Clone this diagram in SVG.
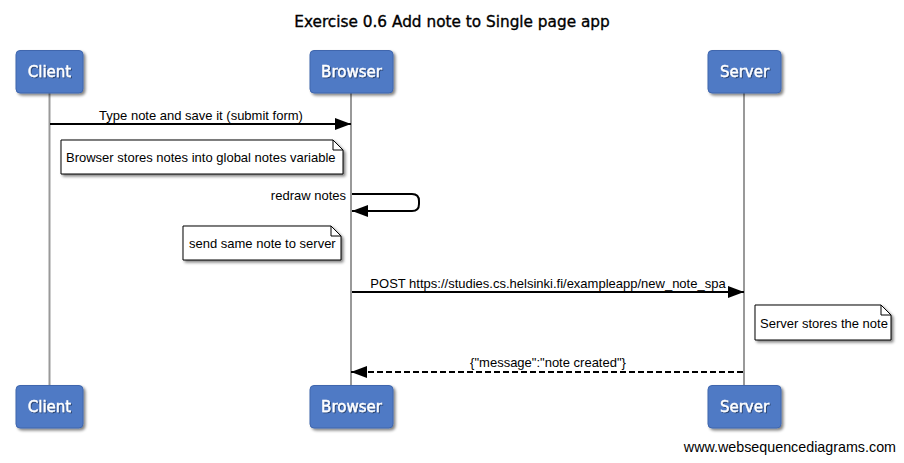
<svg xmlns="http://www.w3.org/2000/svg" width="904" height="463" viewBox="0 0 904 463">
<defs>
<filter id="sh" x="-20%" y="-20%" width="150%" height="150%"><feGaussianBlur in="SourceAlpha" stdDeviation="1.5"/><feOffset dx="2" dy="2"/><feComponentTransfer><feFuncA type="linear" slope="0.5"/></feComponentTransfer><feMerge><feMergeNode/><feMergeNode in="SourceGraphic"/></feMerge></filter>
<filter id="tsh" x="-20%" y="-20%" width="150%" height="150%"><feOffset in="SourceAlpha" dx="1" dy="1"/><feComponentTransfer><feFuncA type="linear" slope="0.45"/></feComponentTransfer><feMerge><feMergeNode/><feMergeNode in="SourceGraphic"/></feMerge></filter>
<marker id="ah" markerWidth="16" markerHeight="12" refX="16" refY="6" orient="auto" markerUnits="userSpaceOnUse"><path d="M0,0 L16,6 L0,12 Z" fill="#000"/></marker>
</defs>
<style>
.box{fill:#4f7ac5;stroke:#3f66ad;stroke-width:1;filter:url(#sh)}
.bt{font-family:"DejaVu Sans",Verdana,sans-serif;font-size:15px;fill:#fff;stroke:#fff;stroke-width:0.4;text-anchor:middle;filter:url(#tsh)}
.life{stroke:#999;stroke-width:2}
.msg{stroke:#000;stroke-width:2;fill:none}
.lbl{font-family:"Liberation Sans",Arial,sans-serif;font-size:13px;fill:#000}
.note{fill:#fff;stroke:#000;stroke-width:1;filter:url(#sh)}
</style>
<rect width="904" height="463" fill="#fff"/>
<text x="452" y="27" font-family="DejaVu Sans,Verdana,sans-serif" font-size="15.3" text-anchor="middle" fill="#000" stroke="#000" stroke-width="0.35">Exercise 0.6 Add note to Single page app</text>
<g id="lifelines">
<line class="life" x1="49.5" y1="93" x2="49.5" y2="386"/>
<line class="life" x1="351" y1="93" x2="351" y2="386"/>
<line class="life" x1="744" y1="93" x2="744" y2="386"/>
</g>
<g id="client"><rect class="box" x="16" y="50.5" width="67" height="42.5" rx="4"/><text class="bt" x="49.5" y="77">Client</text></g>
<g id="browser"><rect class="box" x="310" y="50.5" width="83" height="42.5" rx="4"/><text class="bt" x="351.5" y="77">Browser</text></g>
<g id="server"><rect class="box" x="708" y="50.5" width="73" height="42.5" rx="4"/><text class="bt" x="744.5" y="77">Server</text></g>
<g id="client-bottom"><rect class="box" x="16" y="385.5" width="67" height="42.5" rx="4"/><text class="bt" x="49.5" y="412">Client</text></g>
<g id="browser-bottom"><rect class="box" x="310" y="385.5" width="83" height="42.5" rx="4"/><text class="bt" x="351.5" y="412">Browser</text></g>
<g id="server-bottom"><rect class="box" x="708" y="385.5" width="73" height="42.5" rx="4"/><text class="bt" x="744.5" y="412">Server</text></g>
<g id="connectors">
<line class="msg" x1="50" y1="124" x2="351" y2="124" marker-end="url(#ah)"/>
<text class="lbl" x="201" y="120" text-anchor="middle">Type note and save it (submit form)</text>
<path class="msg" d="M352,194 H412 Q419,194 419,201 V204 Q419,211 412,211 H352" marker-end="url(#ah)"/>
<text class="lbl" x="346" y="200" text-anchor="end">redraw notes</text>
<line class="msg" x1="352" y1="292" x2="744" y2="292" marker-end="url(#ah)"/>
<text class="lbl" x="548" y="288" text-anchor="middle">POST https://studies.cs.helsinki.fi/exampleapp/new_note_spa</text>
<line class="msg" x1="743" y1="372" x2="351" y2="372" stroke-dasharray="6,3" marker-end="url(#ah)"/>
<text class="lbl" x="548" y="367" text-anchor="middle">{"message":"note created"}</text>
</g>
<g id="note1"><path class="note" d="M61,140 H333 L343,150 V174 H61 Z"/><path d="M333,140 V150 H343" fill="none" stroke="#000"/><text class="lbl" x="66" y="162">Browser stores notes into global notes variable</text></g>
<g id="note2"><path class="note" d="M183,226 H331 L341,236 V260 H183 Z"/><path d="M331,226 V236 H341" fill="none" stroke="#000"/><text class="lbl" x="189" y="248">send same note to server</text></g>
<g id="note3"><path class="note" d="M755,305 H881 L891,315 V340 H755 Z"/><path d="M881,305 V315 H891" fill="none" stroke="#000"/><text class="lbl" x="760" y="328">Server stores the note</text></g>
<text x="896" y="452" font-family="Liberation Sans,Arial,sans-serif" font-size="14.3" text-anchor="end" fill="#000">www.websequencediagrams.com</text>
</svg>
